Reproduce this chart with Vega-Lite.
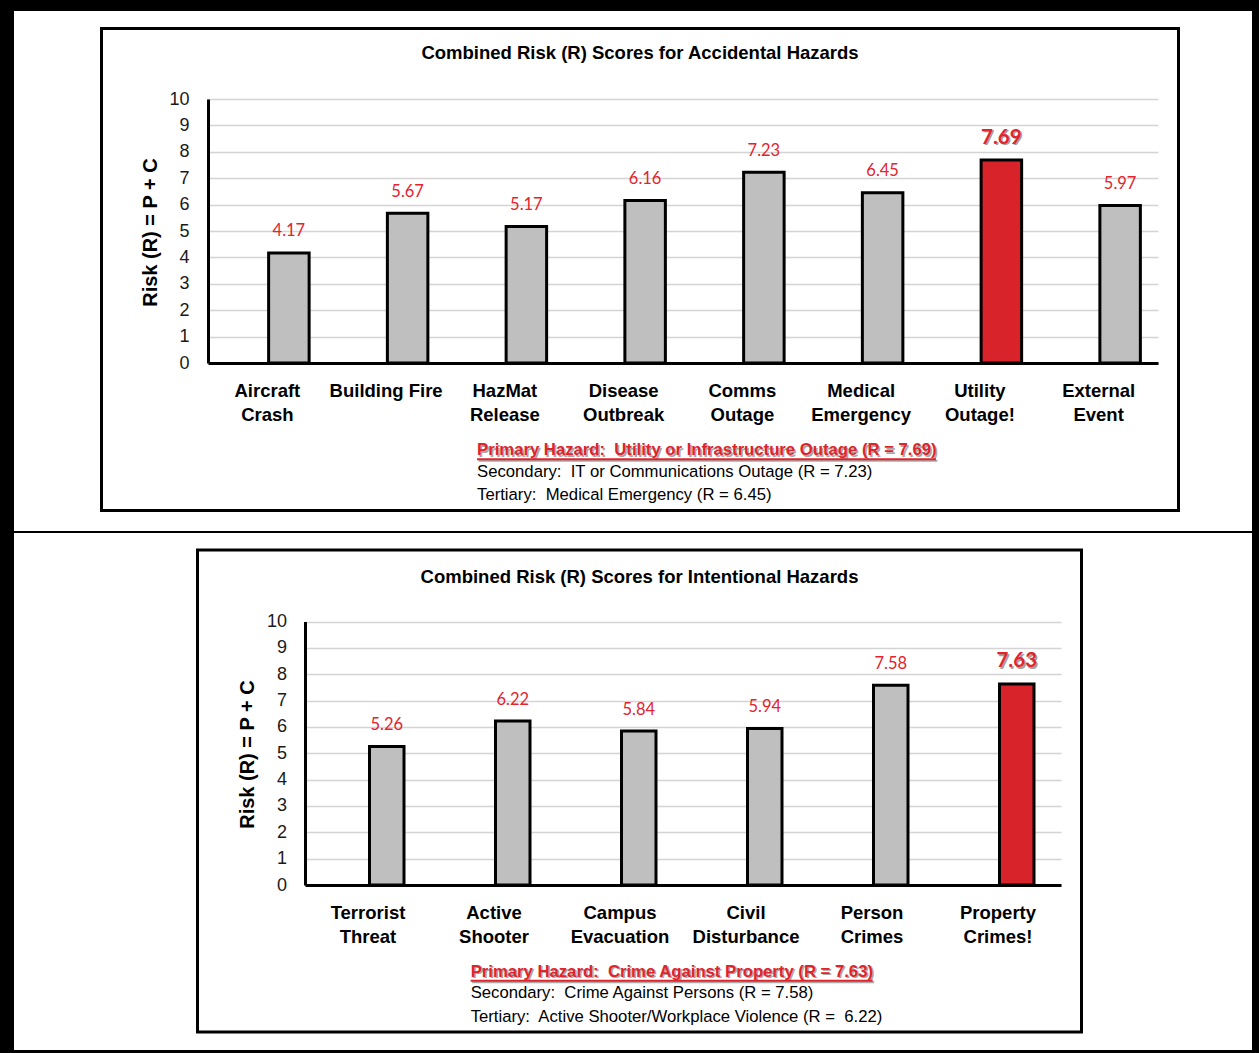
{
  "$schema": "https://vega.github.io/schema/vega-lite/v6.json",
  "background": "black",
  "padding": {"left": 14, "top": 11, "right": 7, "bottom": 3},
  "spacing": 2,
  "datasets": {
    "accidental": [
      {"hazard": "Aircraft\nCrash", "risk": 4.17, "primary": false},
      {"hazard": "Building Fire", "risk": 5.67, "primary": false},
      {"hazard": "HazMat\nRelease", "risk": 5.17, "primary": false},
      {"hazard": "Disease\nOutbreak", "risk": 6.16, "primary": false},
      {"hazard": "Comms\nOutage", "risk": 7.23, "primary": false},
      {"hazard": "Medical\nEmergency", "risk": 6.45, "primary": false},
      {"hazard": "Utility\nOutage!", "risk": 7.69, "primary": true},
      {"hazard": "External\nEvent", "risk": 5.97, "primary": false}
    ],
    "intentional": [
      {"hazard": "Terrorist\nThreat", "risk": 5.26, "primary": false},
      {"hazard": "Active\nShooter", "risk": 6.22, "primary": false},
      {"hazard": "Campus\nEvacuation", "risk": 5.84, "primary": false},
      {"hazard": "Civil\nDisturbance", "risk": 5.94, "primary": false},
      {"hazard": "Person\nCrimes", "risk": 7.58, "primary": false},
      {"hazard": "Property\nCrimes!", "risk": 7.63, "primary": true}
    ]
  },
  "vconcat": [
    {
      "width": 1238,
      "height": 520,
      "resolve": {
        "scale": {"x": "independent", "y": "independent"},
        "axis": {"x": "independent", "y": "independent"}
      },
      "layer": [
        {
          "data": {"values": [{}]},
          "layer": [
            {
              "mark": {"type": "rect", "fill": "transparent", "stroke": "black", "strokeWidth": 3},
              "encoding": {
                "x": {"datum": 0, "type": "quantitative", "scale": {"domain": [0, 100], "range": [87.5, 1164.5]}, "axis": null},
                "x2": {"datum": 100},
                "y": {"datum": 0, "type": "quantitative", "scale": {"domain": [0, 100], "range": [17.5, 499.5]}, "axis": null},
                "y2": {"datum": 100}
              }
            },
            {
              "mark": {"type": "text", "text": "Combined Risk (R) Scores for Accidental Hazards", "font": "Liberation Sans", "fontSize": 18.5, "fontWeight": "bold", "color": "black", "align": "center", "baseline": "middle"},
              "encoding": {"x": {"datum": 50, "type": "quantitative"}, "y": {"datum": 5.15, "type": "quantitative"}}
            },
            {
              "mark": {"type": "text", "text": "Primary Hazard:\u00a0 Utility or Infrastructure Outage (R = 7.69)", "font": "Liberation Sans", "fontSize": 16.7, "fontWeight": "bold", "color": "#a8a8a8", "align": "left", "baseline": "middle", "dx": 1.5, "dy": 1.5},
              "encoding": {"x": {"datum": 34.87, "type": "quantitative"}, "y": {"datum": 87.45, "type": "quantitative"}}
            },
            {
              "mark": {"type": "rule", "color": "#a8a8a8", "strokeWidth": 2, "xOffset": 1.5, "x2Offset": 1.5, "yOffset": 1.5},
              "encoding": {"x": {"datum": 34.87, "type": "quantitative"}, "x2": {"datum": 77.48}, "y": {"datum": 89.35, "type": "quantitative"}}
            },
            {
              "mark": {"type": "rule", "color": "#e0242c", "strokeWidth": 2},
              "encoding": {"x": {"datum": 34.87, "type": "quantitative"}, "x2": {"datum": 77.48}, "y": {"datum": 89.35, "type": "quantitative"}}
            },
            {
              "mark": {"type": "text", "text": "Primary Hazard:\u00a0 Utility or Infrastructure Outage (R = 7.69)", "font": "Liberation Sans", "fontSize": 16.7, "fontWeight": "bold", "color": "#e0242c", "align": "left", "baseline": "middle"},
              "encoding": {"x": {"datum": 34.87, "type": "quantitative"}, "y": {"datum": 87.45, "type": "quantitative"}}
            },
            {
              "mark": {"type": "text", "text": "Secondary:\u00a0 IT or Communications Outage (R = 7.23)", "font": "Liberation Sans", "fontSize": 16.7, "color": "black", "align": "left", "baseline": "middle"},
              "encoding": {"x": {"datum": 34.87, "type": "quantitative"}, "y": {"datum": 91.95, "type": "quantitative"}}
            },
            {
              "mark": {"type": "text", "text": "Tertiary:\u00a0 Medical Emergency (R = 6.45)", "font": "Liberation Sans", "fontSize": 16.7, "color": "black", "align": "left", "baseline": "middle"},
              "encoding": {"x": {"datum": 34.87, "type": "quantitative"}, "y": {"datum": 96.78, "type": "quantitative"}}
            }
          ]
        },
        {
          "data": {"name": "accidental"},
          "encoding": {
            "x": {
              "field": "hazard", "type": "nominal", "sort": null,
              "scale": {"range": [194, 1144], "paddingInner": 0, "paddingOuter": 0},
              "axis": {
                "orient": "bottom", "offset": -168, "title": null, "labelAngle": 0,
                "labelExpr": "split(datum.label, '\\n')",
                "labelFont": "Liberation Sans", "labelFontSize": 18.5, "labelFontWeight": "bold", "labelColor": "black",
                "labelLineHeight": 24, "labelBaseline": "top", "labelPadding": 18, "labelLimit": 300,
                "ticks": false, "tickSize": 0, "domainColor": "black", "domainWidth": 3, "grid": false
              }
            },
            "y": {
              "field": "risk", "type": "quantitative",
              "scale": {"domain": [0, 10], "range": [352, 88], "nice": false},
              "axis": {
                "orient": "left", "offset": -194, "values": [0, 1, 2, 3, 4, 5, 6, 7, 8, 9, 10],
                "ticks": false, "tickSize": 0, "labelPadding": 19,
                "labelFont": "Liberation Sans", "labelFontSize": 18, "labelColor": "#1a1a1a", "labelFlush": false, "labelOverlap": false,
                "domainColor": "black", "domainWidth": 3,
                "grid": true, "gridColor": "#d4d4d4", "gridWidth": 1.5,
                "title": "Risk (R) = P + C", "titleFont": "Liberation Sans", "titleFontSize": 20, "titleFontWeight": "bold", "titleColor": "black",
                "titleAngle": 270, "titleAlign": "center", "titleBaseline": "middle", "titleX": -58, "titleY": 221
              }
            }
          },
          "layer": [
            {
              "mark": {"type": "bar", "width": 40.5, "xOffset": 21.5, "stroke": "black", "strokeWidth": 3, "strokeJoin": "miter"},
              "encoding": {"fill": {"condition": {"test": "datum.primary", "value": "#d9232a"}, "value": "#bfbfbf"}}
            },
            {
              "transform": [{"filter": "!datum.primary"}],
              "mark": {"type": "text", "xOffset": 21.5, "dy": -21.5, "baseline": "middle", "font": "Lato", "fontSize": 16.5, "color": "#e3232d"},
              "encoding": {"text": {"field": "risk", "type": "quantitative", "format": ".2f"}}
            },
            {
              "transform": [{"filter": "datum.primary"}],
              "mark": {"type": "text", "xOffset": 23, "dy": -20.5, "baseline": "middle", "font": "Lato", "fontSize": 20.5, "fontWeight": "bold", "color": "#a0a0a0"},
              "encoding": {"text": {"field": "risk", "type": "quantitative", "format": ".2f"}}
            },
            {
              "transform": [{"filter": "datum.primary"}],
              "mark": {"type": "text", "xOffset": 21.5, "dy": -22, "baseline": "middle", "font": "Lato", "fontSize": 20.5, "fontWeight": "bold", "color": "#e3232d"},
              "encoding": {"text": {"field": "risk", "type": "quantitative", "format": ".2f"}}
            }
          ]
        }
      ]
    },
    {
      "width": 1238,
      "height": 517,
      "resolve": {
        "scale": {"x": "independent", "y": "independent"},
        "axis": {"x": "independent", "y": "independent"}
      },
      "layer": [
        {
          "data": {"values": [{}]},
          "layer": [
            {
              "mark": {"type": "rect", "fill": "transparent", "stroke": "black", "strokeWidth": 3},
              "encoding": {
                "x": {"datum": 0, "type": "quantitative", "scale": {"domain": [0, 100], "range": [183.5, 1067.5]}, "axis": null},
                "x2": {"datum": 100},
                "y": {"datum": 0, "type": "quantitative", "scale": {"domain": [0, 100], "range": [17, 499]}, "axis": null},
                "y2": {"datum": 100}
              }
            },
            {
              "mark": {"type": "text", "text": "Combined Risk (R) Scores for Intentional Hazards", "font": "Liberation Sans", "fontSize": 18.5, "fontWeight": "bold", "color": "black", "align": "center", "baseline": "middle"},
              "encoding": {"x": {"datum": 50, "type": "quantitative"}, "y": {"datum": 5.7, "type": "quantitative"}}
            },
            {
              "mark": {"type": "text", "text": "Primary Hazard:\u00a0 Crime Against Property (R = 7.63)", "font": "Liberation Sans", "fontSize": 16.7, "fontWeight": "bold", "color": "#a8a8a8", "align": "left", "baseline": "middle", "dx": 1.5, "dy": 1.5},
              "encoding": {"x": {"datum": 30.9, "type": "quantitative"}, "y": {"datum": 87.49, "type": "quantitative"}}
            },
            {
              "mark": {"type": "rule", "color": "#a8a8a8", "strokeWidth": 2, "xOffset": 1.5, "x2Offset": 1.5, "yOffset": 1.5},
              "encoding": {"x": {"datum": 30.9, "type": "quantitative"}, "x2": {"datum": 76.38}, "y": {"datum": 89.35, "type": "quantitative"}}
            },
            {
              "mark": {"type": "rule", "color": "#e0242c", "strokeWidth": 2},
              "encoding": {"x": {"datum": 30.9, "type": "quantitative"}, "x2": {"datum": 76.38}, "y": {"datum": 89.35, "type": "quantitative"}}
            },
            {
              "mark": {"type": "text", "text": "Primary Hazard:\u00a0 Crime Against Property (R = 7.63)", "font": "Liberation Sans", "fontSize": 16.7, "fontWeight": "bold", "color": "#e0242c", "align": "left", "baseline": "middle"},
              "encoding": {"x": {"datum": 30.9, "type": "quantitative"}, "y": {"datum": 87.49, "type": "quantitative"}}
            },
            {
              "mark": {"type": "text", "text": "Secondary:\u00a0 Crime Against Persons (R = 7.58)", "font": "Liberation Sans", "fontSize": 16.7, "color": "black", "align": "left", "baseline": "middle"},
              "encoding": {"x": {"datum": 30.9, "type": "quantitative"}, "y": {"datum": 91.91, "type": "quantitative"}}
            },
            {
              "mark": {"type": "text", "text": "Tertiary:\u00a0 Active Shooter/Workplace Violence (R =\u00a0 6.22)", "font": "Liberation Sans", "fontSize": 16.7, "color": "black", "align": "left", "baseline": "middle"},
              "encoding": {"x": {"datum": 30.9, "type": "quantitative"}, "y": {"datum": 96.89, "type": "quantitative"}}
            }
          ]
        },
        {
          "data": {"name": "intentional"},
          "encoding": {
            "x": {
              "field": "hazard", "type": "nominal", "sort": null,
              "scale": {"range": [291, 1047], "paddingInner": 0, "paddingOuter": 0},
              "axis": {
                "orient": "bottom", "offset": -165, "title": null, "labelAngle": 0,
                "labelExpr": "split(datum.label, '\\n')",
                "labelFont": "Liberation Sans", "labelFontSize": 18.5, "labelFontWeight": "bold", "labelColor": "black",
                "labelLineHeight": 24, "labelBaseline": "top", "labelPadding": 18, "labelLimit": 300,
                "ticks": false, "tickSize": 0, "domainColor": "black", "domainWidth": 3, "grid": false
              }
            },
            "y": {
              "field": "risk", "type": "quantitative",
              "scale": {"domain": [0, 10], "range": [352, 88.5], "nice": false},
              "axis": {
                "orient": "left", "offset": -291, "values": [0, 1, 2, 3, 4, 5, 6, 7, 8, 9, 10],
                "ticks": false, "tickSize": 0, "labelPadding": 18.5,
                "labelFont": "Liberation Sans", "labelFontSize": 18, "labelColor": "#1a1a1a", "labelFlush": false, "labelOverlap": false,
                "domainColor": "black", "domainWidth": 3,
                "grid": true, "gridColor": "#d4d4d4", "gridWidth": 1.5,
                "title": "Risk (R) = P + C", "titleFont": "Liberation Sans", "titleFontSize": 20, "titleFontWeight": "bold", "titleColor": "black",
                "titleAngle": 270, "titleAlign": "center", "titleBaseline": "middle", "titleX": -58, "titleY": 221
              }
            }
          },
          "layer": [
            {
              "mark": {"type": "bar", "width": 34.5, "xOffset": 18.75, "stroke": "black", "strokeWidth": 3, "strokeJoin": "miter"},
              "encoding": {"fill": {"condition": {"test": "datum.primary", "value": "#d9232a"}, "value": "#bfbfbf"}}
            },
            {
              "transform": [{"filter": "!datum.primary"}],
              "mark": {"type": "text", "xOffset": 18.75, "dy": -21.5, "baseline": "middle", "font": "Lato", "fontSize": 16.5, "color": "#e3232d"},
              "encoding": {"text": {"field": "risk", "type": "quantitative", "format": ".2f"}}
            },
            {
              "transform": [{"filter": "datum.primary"}],
              "mark": {"type": "text", "xOffset": 20.25, "dy": -21, "baseline": "middle", "font": "Lato", "fontSize": 20.5, "fontWeight": "bold", "color": "#a0a0a0"},
              "encoding": {"text": {"field": "risk", "type": "quantitative", "format": ".2f"}}
            },
            {
              "transform": [{"filter": "datum.primary"}],
              "mark": {"type": "text", "xOffset": 18.75, "dy": -22.5, "baseline": "middle", "font": "Lato", "fontSize": 20.5, "fontWeight": "bold", "color": "#e3232d"},
              "encoding": {"text": {"field": "risk", "type": "quantitative", "format": ".2f"}}
            }
          ]
        }
      ]
    }
  ],
  "config": {
    "view": {"fill": "white", "stroke": null},
    "font": "Liberation Sans"
  }
}
